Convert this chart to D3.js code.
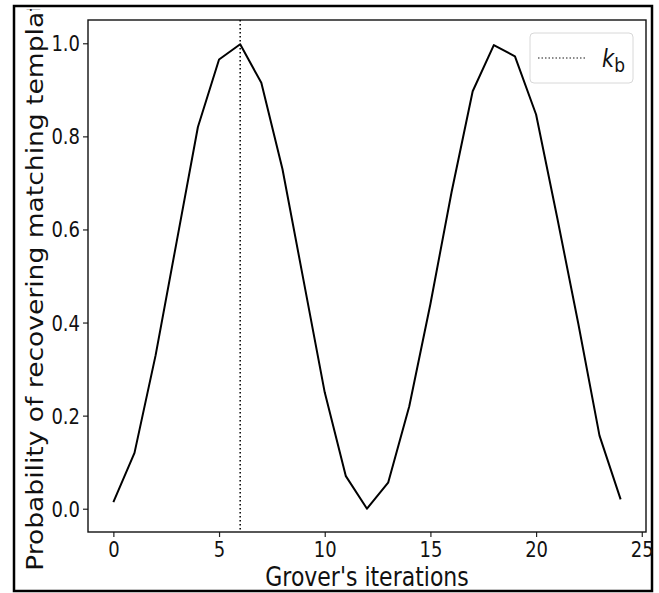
<!DOCTYPE html>
<html>
<head>
<meta charset="utf-8">
<script src="https://cdn.jsdelivr.net/npm/d3@7"></script>
<style>
  body { margin: 0; background: #fff; }
  svg { display: block; }
  text { font-family: "DejaVu Sans", sans-serif; fill: #111; }
</style>
</head>
<body>
<svg id="canvas" width="659" height="593"></svg>
<script>
// Grover's iterations (x) and probability
let iterations = d3.range(0, 25);
let probability = [0.014, 0.12, 0.33, 0.575, 0.82, 0.965, 0.998, 0.915, 0.73, 0.49,
                   0.25, 0.07, 0.0, 0.056, 0.22, 0.44, 0.68, 0.897, 0.996, 0.972,
                   0.847, 0.625, 0.397, 0.157, 0.02];
let kb = 6;
let xTicks = [0, 5, 10, 15, 20, 25];
let yTicks = [0.0, 0.2, 0.4, 0.6, 0.8, 1.0];

let canvas = d3.select('#canvas');
let stretch = 1.18; // picture is a bit taller than it is wide

let plotLeft = 88, plotRight = 646, plotTop = 20, plotBottom = 532;

let xScale = d3.scaleLinear().domain([-1.2, 25.2]).range([plotLeft, plotRight]);
let yScale = d3.scaleLinear().domain([-0.05, 1.05]).range([plotBottom, plotTop]);

// outer frame
canvas.append('rect')
    .attr('x', 14).attr('y', 6)
    .attr('width', 638).attr('height', 585)
    .attr('fill', 'none')
    .attr('stroke', '#000')
    .attr('stroke-width', 2.5);

// axes
let xAxis = canvas.append('g')
    .attr('transform', 'translate(0,' + plotBottom + ')')
    .call(d3.axisBottom(xScale).tickValues(xTicks).tickSize(5).tickSizeOuter(0).tickFormat(d3.format('d')));

let yAxis = canvas.append('g')
    .attr('transform', 'translate(' + plotLeft + ',0)')
    .call(d3.axisLeft(yScale).tickValues(yTicks).tickSize(5).tickSizeOuter(0).tickFormat(d3.format('.1f')));

[xAxis, yAxis].forEach(ax => {
    ax.select('.domain').remove();
    ax.selectAll('line').attr('stroke', '#222').attr('stroke-width', 1.2);
    ax.selectAll('text').attr('font-size', 18).attr('fill', '#111');
});

xAxis.selectAll('.tick text')
    .attr('y', 0).attr('dy', 0)
    .attr('transform', 'translate(0,25) scale(1,' + stretch + ')');

yAxis.selectAll('.tick text')
    .attr('x', 0).attr('dy', 0)
    .attr('transform', 'translate(-8,7.5) scale(1,' + stretch + ')');

// spines
canvas.append('rect')
    .attr('x', plotLeft).attr('y', plotTop)
    .attr('width', plotRight - plotLeft).attr('height', plotBottom - plotTop)
    .attr('fill', 'none')
    .attr('stroke', '#111')
    .attr('stroke-width', 1.4);

// kb line
canvas.append('line')
    .attr('x1', xScale(kb)).attr('x2', xScale(kb))
    .attr('y1', plotTop).attr('y2', plotBottom)
    .attr('stroke', '#000')
    .attr('stroke-width', 1.5)
    .attr('stroke-dasharray', '1.5,2.5');

// probability curve
let line = d3.line()
    .x((d, i) => xScale(iterations[i]))
    .y(d => yScale(d));

canvas.append('path')
    .datum(probability)
    .attr('d', line)
    .attr('fill', 'none')
    .attr('stroke', '#000')
    .attr('stroke-width', 2)
    .attr('stroke-linejoin', 'round');

// axis labels
canvas.append('text')
    .attr('text-anchor', 'middle')
    .attr('font-size', 22)
    .attr('transform', 'translate(' + ((plotLeft + plotRight) / 2) + ',586) scale(1,' + stretch + ')')
    .text("Grover's iterations");

canvas.append('clipPath').attr('id', 'ylabclip')
    .append('rect').attr('x', 0).attr('y', 9).attr('width', 80).attr('height', 584);

canvas.append('g')
    .attr('clip-path', 'url(#ylabclip)')
    .append('text')
    .attr('text-anchor', 'middle')
    .attr('font-size', 22.5)
    .attr('transform', 'translate(43,278) scale(1,' + stretch + ') rotate(-90)')
    .text('Probability of recovering matching template');

// legend
let legend = canvas.append('g');
legend.append('rect')
    .attr('x', 530).attr('y', 33)
    .attr('width', 103).attr('height', 50)
    .attr('rx', 4)
    .attr('fill', '#fff')
    .attr('stroke', '#d8d8d8')
    .attr('stroke-width', 1);
legend.append('line')
    .attr('x1', 538).attr('x2', 585)
    .attr('y1', 58).attr('y2', 58)
    .attr('stroke', '#666')
    .attr('stroke-width', 1.3)
    .attr('stroke-dasharray', '1.5,2');
let lab = legend.append('text')
    .attr('transform', 'translate(602,67) scale(1,' + stretch + ')');
lab.append('tspan').attr('font-size', 21).attr('font-style', 'italic').text('k');
lab.append('tspan').attr('font-size', 17).attr('dy', 4).text('b');
</script>
</body>
</html>
